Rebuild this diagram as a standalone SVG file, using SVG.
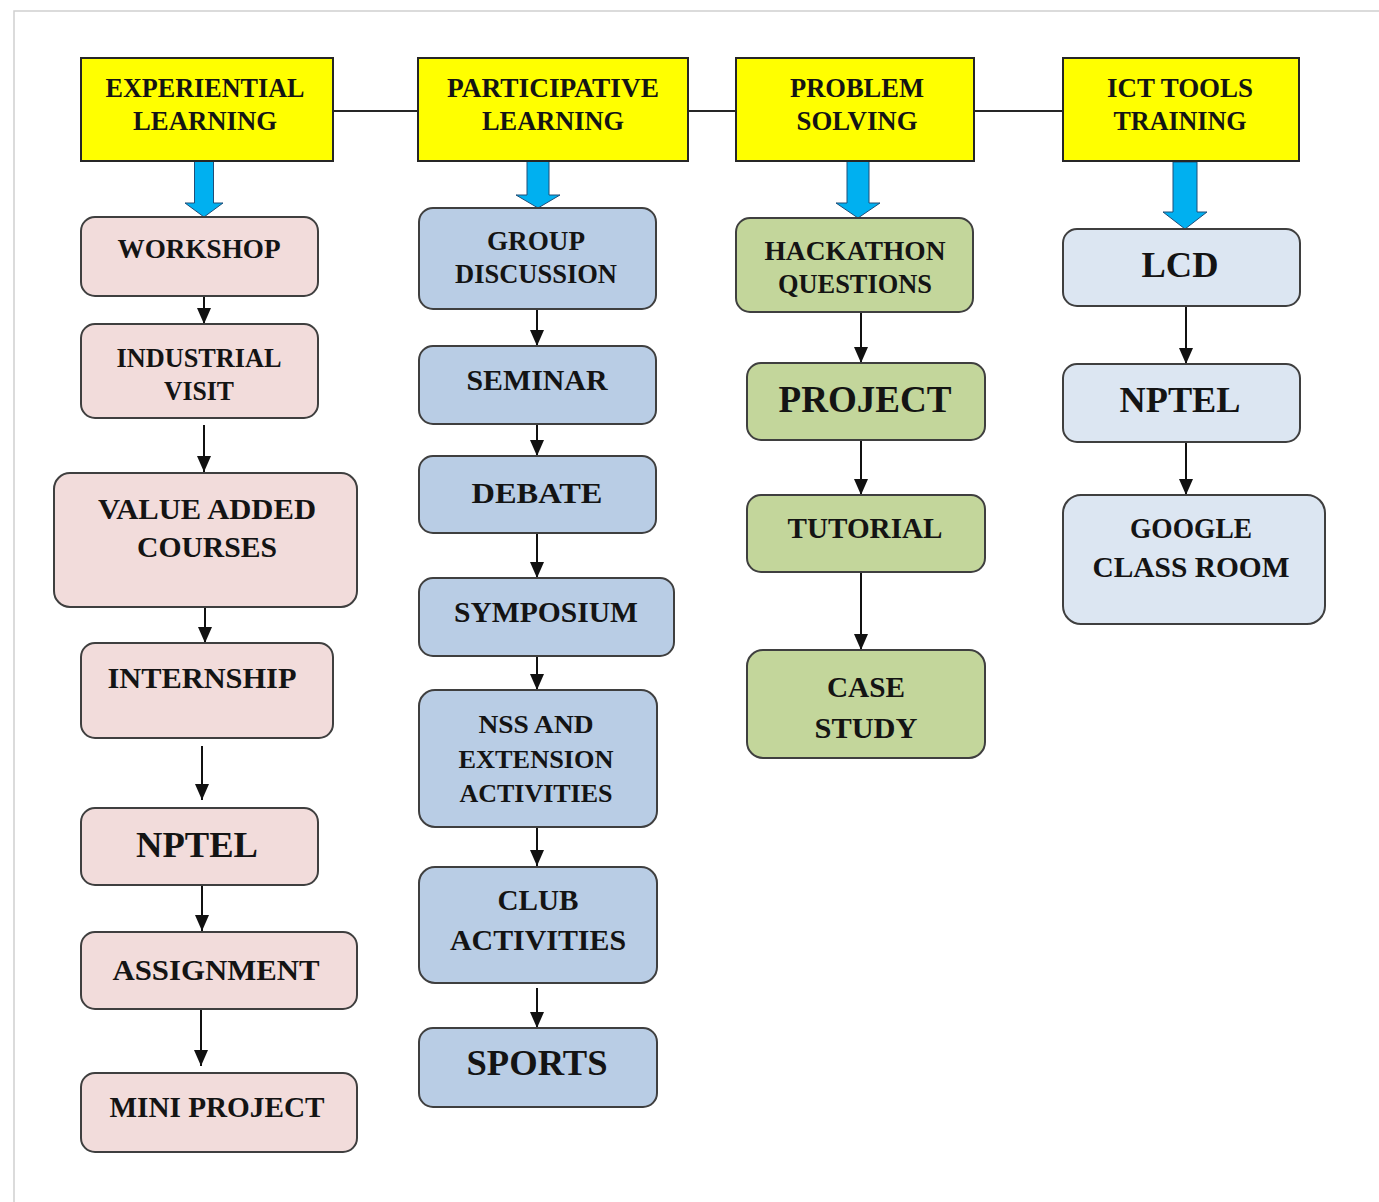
<svg xmlns="http://www.w3.org/2000/svg" width="1379" height="1202" viewBox="0 0 1379 1202">
<style>
text{font-family:'Liberation Serif','DejaVu Serif',serif;font-weight:bold;fill:#141414;text-anchor:middle}
.hdr rect{fill:#FFFF00;stroke:#262626;stroke-width:2}
.pink rect{fill:#F2DCDB;stroke:#3F3F3F;stroke-width:2}
.blue rect{fill:#B9CDE5;stroke:#3F3F3F;stroke-width:2}
.green rect{fill:#C3D69B;stroke:#3F3F3F;stroke-width:2}
.lblue rect{fill:#DCE6F2;stroke:#3F3F3F;stroke-width:2}
.link{stroke:#262626;stroke-width:2;fill:none}
.arr{stroke:#111;stroke-width:2;fill:none;marker-end:url(#ah)}
.big{fill:#00B0F0;stroke:#1F4E79;stroke-width:1}
</style>
<defs>
<marker id="ah" viewBox="0 0 16 14" refX="16" refY="7" markerWidth="16" markerHeight="14" markerUnits="userSpaceOnUse" orient="auto">
<path d="M0,0 L16,7 L0,14 z" fill="#111"/>
</marker>
</defs>
<rect width="1379" height="1202" fill="#fff"/>
<path d="M14,1202 V11 H1379" fill="none" stroke="#D0D0D0" stroke-width="1.5"/>

<g id="connectors">
<path class="link" d="M333,111 H418 M688,111 H736 M974,111 H1063"/>
<path class="big" d="M194.5,161 H213.5 V203 H223 L204,217 L185,203 H194.5 Z"/>
<path class="big" d="M527,161 H549 V195 H560 L538,208 L516,195 H527 Z"/>
<path class="big" d="M847,161 H869 V203 H880 L858,218 L836,203 H847 Z"/>
<path class="big" d="M1173,162 H1197 V212 H1207 L1185,229 L1163,212 H1173 Z"/>
<line class="arr" x1="204" y1="296" x2="204" y2="324"/>
<line class="arr" x1="204" y1="425" x2="204" y2="472"/>
<line class="arr" x1="205" y1="607" x2="205" y2="643"/>
<line class="arr" x1="202" y1="746" x2="202" y2="800"/>
<line class="arr" x1="202" y1="886" x2="202" y2="931"/>
<line class="arr" x1="201" y1="1010" x2="201" y2="1066"/>
<line class="arr" x1="537" y1="310" x2="537" y2="346"/>
<line class="arr" x1="537" y1="424" x2="537" y2="456"/>
<line class="arr" x1="537" y1="533" x2="537" y2="578"/>
<line class="arr" x1="537" y1="656" x2="537" y2="690"/>
<line class="arr" x1="537" y1="827" x2="537" y2="866"/>
<line class="arr" x1="537" y1="988" x2="537" y2="1028"/>
<line class="arr" x1="861" y1="312" x2="861" y2="363"/>
<line class="arr" x1="861" y1="440" x2="861" y2="495"/>
<line class="arr" x1="861" y1="572" x2="861" y2="650"/>
<line class="arr" x1="1186" y1="306" x2="1186" y2="364"/>
<line class="arr" x1="1186" y1="442" x2="1186" y2="495"/>
</g>

<g font-family="Liberation Serif, DejaVu Serif, serif">
<g id="experiential" class="hdr"><rect x="81" y="58" width="252" height="103"/>
<text x="205" y="97" font-size="27" textLength="199" lengthAdjust="spacingAndGlyphs">EXPERIENTIAL</text>
<text x="205" y="130" font-size="27" textLength="144" lengthAdjust="spacingAndGlyphs">LEARNING</text></g>
<g id="participative" class="hdr"><rect x="418" y="58" width="270" height="103"/>
<text x="553" y="97" font-size="27" textLength="212" lengthAdjust="spacingAndGlyphs">PARTICIPATIVE</text>
<text x="553" y="130" font-size="27" textLength="142" lengthAdjust="spacingAndGlyphs">LEARNING</text></g>
<g id="problem" class="hdr"><rect x="736" y="58" width="238" height="103"/>
<text x="857" y="97" font-size="27" textLength="134" lengthAdjust="spacingAndGlyphs">PROBLEM</text>
<text x="857" y="130" font-size="27" textLength="121" lengthAdjust="spacingAndGlyphs">SOLVING</text></g>
<g id="ict" class="hdr"><rect x="1063" y="58" width="236" height="103"/>
<text x="1180" y="97" font-size="27" textLength="146" lengthAdjust="spacingAndGlyphs">ICT TOOLS</text>
<text x="1180" y="130" font-size="27" textLength="133" lengthAdjust="spacingAndGlyphs">TRAINING</text></g>

<g id="workshop" class="pink"><rect x="81" y="217" width="237" height="79" rx="14"/>
<text x="199" y="258" font-size="28" textLength="163" lengthAdjust="spacingAndGlyphs">WORKSHOP</text></g>
<g id="industrial" class="pink"><rect x="81" y="324" width="237" height="94" rx="14"/>
<text x="199" y="367" font-size="27" textLength="165" lengthAdjust="spacingAndGlyphs">INDUSTRIAL</text>
<text x="199" y="400" font-size="27" textLength="70" lengthAdjust="spacingAndGlyphs">VISIT</text></g>
<g id="valueadded" class="pink"><rect x="54" y="473" width="303" height="134" rx="16"/>
<text x="207" y="519" font-size="30" textLength="218" lengthAdjust="spacingAndGlyphs">VALUE ADDED</text>
<text x="207" y="557" font-size="30" textLength="140" lengthAdjust="spacingAndGlyphs">COURSES</text></g>
<g id="internship" class="pink"><rect x="81" y="643" width="252" height="95" rx="14"/>
<text x="202" y="688" font-size="30" textLength="189" lengthAdjust="spacingAndGlyphs">INTERNSHIP</text></g>
<g id="nptel1" class="pink"><rect x="81" y="808" width="237" height="77" rx="14"/>
<text x="197" y="857" font-size="36" textLength="122" lengthAdjust="spacingAndGlyphs">NPTEL</text></g>
<g id="assignment" class="pink"><rect x="81" y="932" width="276" height="77" rx="14"/>
<text x="216" y="980" font-size="30" textLength="207" lengthAdjust="spacingAndGlyphs">ASSIGNMENT</text></g>
<g id="miniproject" class="pink"><rect x="81" y="1073" width="276" height="79" rx="14"/>
<text x="217" y="1117" font-size="30" textLength="215" lengthAdjust="spacingAndGlyphs">MINI PROJECT</text></g>

<g id="groupdiscussion" class="blue"><rect x="419" y="208" width="237" height="101" rx="14"/>
<text x="536" y="250" font-size="27" textLength="98" lengthAdjust="spacingAndGlyphs">GROUP</text>
<text x="536" y="283" font-size="27" textLength="162" lengthAdjust="spacingAndGlyphs">DISCUSSION</text></g>
<g id="seminar" class="blue"><rect x="419" y="346" width="237" height="78" rx="14"/>
<text x="537" y="390" font-size="29" textLength="141" lengthAdjust="spacingAndGlyphs">SEMINAR</text></g>
<g id="debate" class="blue"><rect x="419" y="456" width="237" height="77" rx="14"/>
<text x="537" y="503" font-size="30" textLength="131" lengthAdjust="spacingAndGlyphs">DEBATE</text></g>
<g id="symposium" class="blue"><rect x="419" y="578" width="255" height="78" rx="14"/>
<text x="546" y="622" font-size="29" textLength="184" lengthAdjust="spacingAndGlyphs">SYMPOSIUM</text></g>
<g id="nss" class="blue"><rect x="419" y="690" width="238" height="137" rx="16"/>
<text x="536" y="733" font-size="26" textLength="115" lengthAdjust="spacingAndGlyphs">NSS AND</text>
<text x="536" y="768" font-size="26" textLength="155" lengthAdjust="spacingAndGlyphs">EXTENSION</text>
<text x="536" y="802" font-size="26" textLength="153" lengthAdjust="spacingAndGlyphs">ACTIVITIES</text></g>
<g id="club" class="blue"><rect x="419" y="867" width="238" height="116" rx="16"/>
<text x="538" y="910" font-size="30" textLength="81" lengthAdjust="spacingAndGlyphs">CLUB</text>
<text x="538" y="950" font-size="30" textLength="176" lengthAdjust="spacingAndGlyphs">ACTIVITIES</text></g>
<g id="sports" class="blue"><rect x="419" y="1028" width="238" height="79" rx="14"/>
<text x="537" y="1075" font-size="36" textLength="141" lengthAdjust="spacingAndGlyphs">SPORTS</text></g>

<g id="hackathon" class="green"><rect x="736" y="218" width="237" height="94" rx="14"/>
<text x="855" y="260" font-size="27" textLength="181" lengthAdjust="spacingAndGlyphs">HACKATHON</text>
<text x="855" y="293" font-size="27" textLength="154" lengthAdjust="spacingAndGlyphs">QUESTIONS</text></g>
<g id="project" class="green"><rect x="747" y="363" width="238" height="77" rx="14"/>
<text x="865" y="412" font-size="37" textLength="173" lengthAdjust="spacingAndGlyphs">PROJECT</text></g>
<g id="tutorial" class="green"><rect x="747" y="495" width="238" height="77" rx="14"/>
<text x="865" y="538" font-size="29" textLength="155" lengthAdjust="spacingAndGlyphs">TUTORIAL</text></g>
<g id="casestudy" class="green"><rect x="747" y="650" width="238" height="108" rx="16"/>
<text x="866" y="697" font-size="30" textLength="78" lengthAdjust="spacingAndGlyphs">CASE</text>
<text x="866" y="738" font-size="30" textLength="103" lengthAdjust="spacingAndGlyphs">STUDY</text></g>

<g id="lcd" class="lblue"><rect x="1063" y="229" width="237" height="77" rx="14"/>
<text x="1180" y="277" font-size="36" textLength="77" lengthAdjust="spacingAndGlyphs">LCD</text></g>
<g id="nptel2" class="lblue"><rect x="1063" y="364" width="237" height="78" rx="14"/>
<text x="1180" y="412" font-size="36" textLength="121" lengthAdjust="spacingAndGlyphs">NPTEL</text></g>
<g id="google" class="lblue"><rect x="1063" y="495" width="262" height="129" rx="18"/>
<text x="1191" y="538" font-size="29" textLength="122" lengthAdjust="spacingAndGlyphs">GOOGLE</text>
<text x="1191" y="577" font-size="29" textLength="197" lengthAdjust="spacingAndGlyphs">CLASS ROOM</text></g>
</g>
</svg>
